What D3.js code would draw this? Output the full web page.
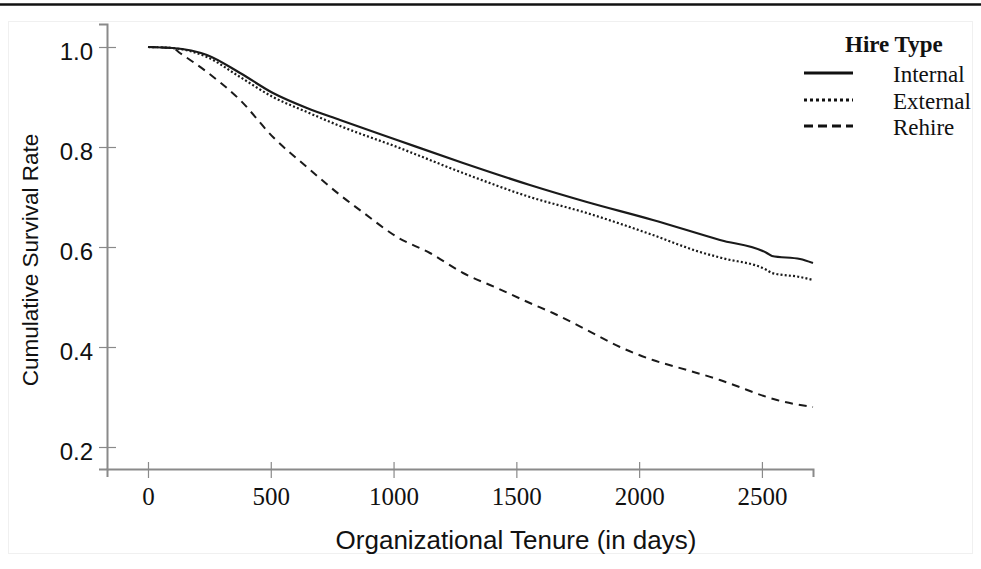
<!DOCTYPE html>
<html>
<head>
<meta charset="utf-8">
<script src="https://cdn.jsdelivr.net/npm/d3@7"></script>
<style>
html,body{margin:0;padding:0;background:#fff;}
svg{display:block;}
</style>
</head>
<body>
<svg id="chart" width="981" height="569"></svg>
<script>
// ---- data ----
const seriesNames = ["Internal", "External", "Rehire"];
const internalDays = [0, 100, 240, 375, 509, 647, 782, 1014, 1283, 1555, 1787, 2056, 2329, 2520, 2541, 2655, 2708];
const internalRate = [1.000, 0.998, 0.984, 0.948, 0.908, 0.878, 0.854, 0.814, 0.768, 0.724, 0.690, 0.654, 0.614, 0.588, 0.582, 0.576, 0.568];
const externalDays = [0, 100, 240, 375, 509, 647, 782, 1014, 1283, 1555, 1787, 2056, 2248, 2337, 2520, 2541, 2655, 2708];
const externalRate = [1.000, 0.998, 0.980, 0.940, 0.900, 0.870, 0.842, 0.800, 0.748, 0.700, 0.668, 0.624, 0.590, 0.578, 0.554, 0.548, 0.540, 0.534];
const rehireDays = [0, 100, 130, 240, 375, 509, 647, 782, 879, 1014, 1148, 1283, 1421, 1555, 1649, 1787, 1922, 2056, 2194, 2329, 2386, 2520, 2561, 2708];
const rehireRate = [1.000, 0.998, 0.988, 0.950, 0.894, 0.820, 0.760, 0.704, 0.668, 0.620, 0.588, 0.548, 0.518, 0.488, 0.468, 0.434, 0.400, 0.374, 0.354, 0.334, 0.324, 0.300, 0.294, 0.280];
const xTicks = [0, 500, 1000, 1500, 2000, 2500];
const yTicks = [0.2, 0.4, 0.6, 0.8, 1.0];
const xTitle = "Organizational Tenure (in days)";
const yTitle = "Cumulative Survival Rate";
const legendTitle = "Hire Type";

const svg = d3.select("#chart");
const W = 981, H = 569;

// top rule and faint frame
svg.append("line").attr("x1", 0).attr("x2", W).attr("y1", 4.5).attr("y2", 4.5)
  .attr("stroke", "#111").attr("stroke-width", 2.5);
svg.append("rect").attr("x", 8.5).attr("y", 21.5).attr("width", 964).attr("height", 532)
  .attr("fill", "none").attr("stroke", "#f0f0f0").attr("stroke-width", 1);

const x = d3.scaleLinear().domain([-166.9, 2708]).range([107, 813]);
const y = d3.scaleLinear().domain([0.156, 1.046]).range([469, 24]);

const axisColor = "#8a8a8a";

// y axis
const gy = svg.append("g").attr("transform", "translate(107,0)")
  .call(d3.axisLeft(y).tickValues(yTicks).tickFormat(d3.format(".1f")).tickSizeOuter(0).tickSize(8));
gy.select(".domain").attr("stroke", axisColor).attr("stroke-width", 2);
gy.selectAll(".tick line").attr("x1", -8).attr("x2", 9).attr("stroke", axisColor).attr("stroke-width", 1.2);
gy.selectAll(".tick text").attr("x", -14).attr("dy", "0.5em")
  .style("font-family", "'Liberation Sans', Arial, sans-serif").style("font-size", "24px").attr("fill", "#111");

// x axis
const gx = svg.append("g").attr("transform", "translate(0,469)")
  .call(d3.axisBottom(x).tickValues(xTicks).tickFormat(d3.format("d")).tickSizeOuter(0).tickSize(8));
gx.select(".domain").attr("stroke", axisColor).attr("stroke-width", 2);
gx.selectAll(".tick line").attr("y1", -7).attr("y2", 9).attr("stroke", axisColor).attr("stroke-width", 1.2);
gx.selectAll(".tick text").attr("y", 36).attr("dy", 0)
  .style("font-family", "'Liberation Serif', 'Times New Roman', serif").style("font-size", "25px").attr("fill", "#111");

// axis titles
svg.append("text").attr("x", 516).attr("y", 549).attr("text-anchor", "middle")
  .style("font-family", "'Liberation Sans', Arial, sans-serif").style("font-size", "26px").attr("fill", "#111")
  .text(xTitle);
svg.append("text").attr("transform", "translate(38,260) rotate(-90)").attr("text-anchor", "middle")
  .style("font-family", "'Liberation Sans', Arial, sans-serif").style("font-size", "22.5px").attr("fill", "#111")
  .text(yTitle);

// series
const series = [
  {name: seriesNames[0], days: internalDays, rate: internalRate, dash: null, w: 2.2},
  {name: seriesNames[1], days: externalDays, rate: externalRate, dash: "2,2.2", w: 2.2},
  {name: seriesNames[2], days: rehireDays, rate: rehireRate, dash: "8,6", w: 2}
];
const line = d3.line().x(d => x(d[0])).y(d => y(d[1])).curve(d3.curveMonotoneX);
series.forEach(s => {
  const pts = s.days.map((d, i) => [d, s.rate[i]]);
  svg.append("path").datum(pts).attr("d", line)
    .attr("fill", "none").attr("stroke", "#1a1a1a").attr("stroke-width", s.w)
    .attr("stroke-dasharray", s.dash);
});

// legend
svg.append("text").attr("x", 845).attr("y", 52)
  .style("font-family", "'Liberation Serif', 'Times New Roman', serif").style("font-size", "23px")
  .style("font-weight", "bold").attr("fill", "#111").text(legendTitle);
const legY = [73, 100, 126];
const legDash = [null, "3,3", "9,5"];
series.forEach((s, i) => {
  svg.append("line").attr("x1", 804).attr("x2", 853).attr("y1", legY[i]).attr("y2", legY[i])
    .attr("stroke", "#111").attr("stroke-width", 3).attr("stroke-dasharray", legDash[i]);
  svg.append("text").attr("x", 893).attr("y", legY[i] + 9)
    .style("font-family", "'Liberation Serif', 'Times New Roman', serif").style("font-size", "23px")
    .attr("fill", "#111").text(s.name);
});
</script>
</body>
</html>
